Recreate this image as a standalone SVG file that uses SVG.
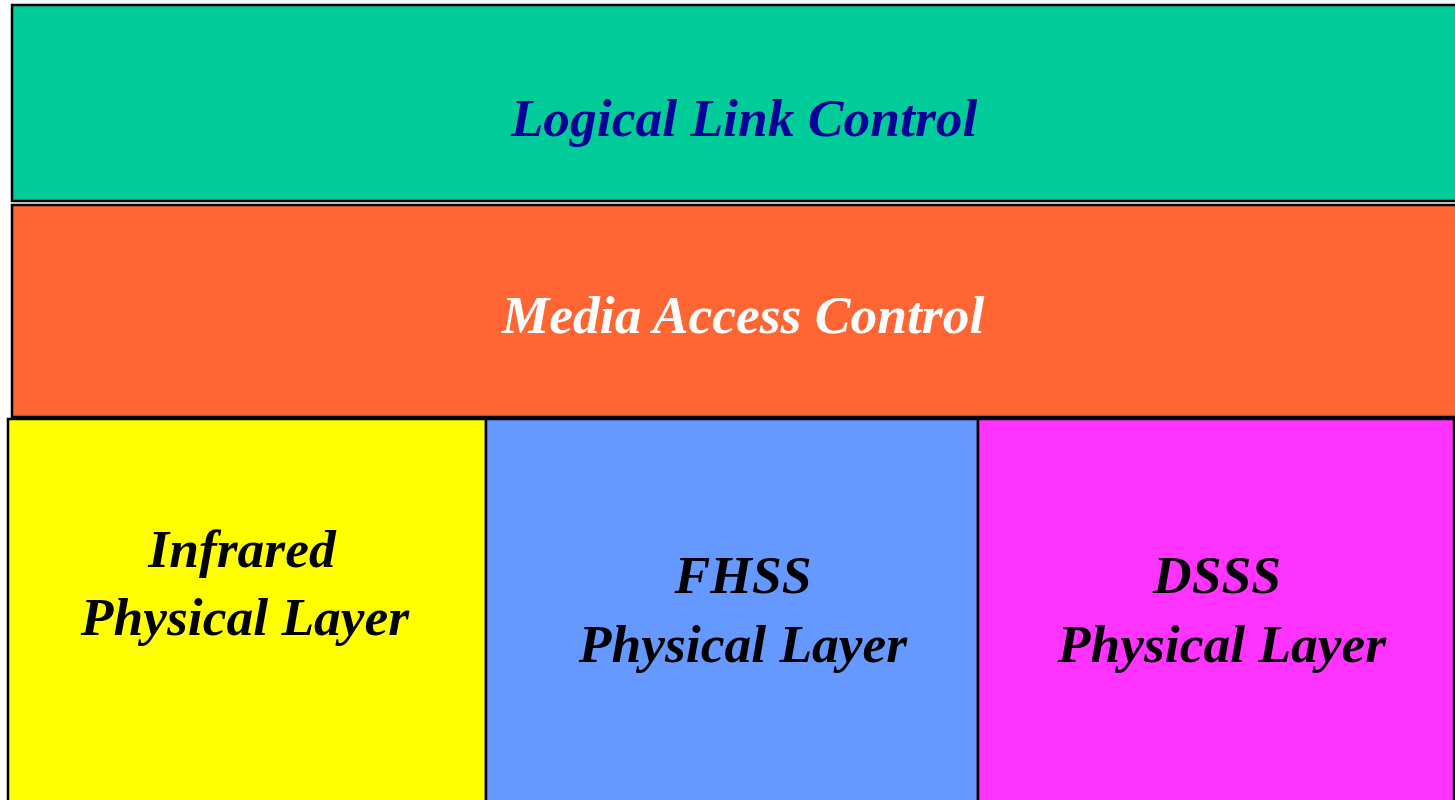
<svg xmlns="http://www.w3.org/2000/svg" width="1455" height="800" viewBox="0 0 1455 800">
  <style>
    .box { stroke: #000; stroke-width: 2.5; }
    .lbl { font-family: "Liberation Serif", "Times New Roman", serif; font-weight: bold; font-style: italic; font-size: 53.5px; text-anchor: middle; }
  </style>
  <rect width="1455" height="800" fill="#fff"/>
  <g id="llc">
    <rect class="box" x="12" y="5" width="1460" height="196" fill="#00CC99"/>
    <text class="lbl" x="744" y="136" fill="#000099">Logical Link Control</text>
  </g>
  <g id="mac">
    <rect class="box" x="12" y="205" width="1460" height="212" fill="#FF6633"/>
    <text class="lbl" x="743" y="333" fill="#fff">Media Access Control</text>
  </g>
  <g id="infrared">
    <rect class="box" x="8" y="419" width="478" height="400" fill="#FFFF00"/>
    <text class="lbl" x="242" y="567" fill="#000">Infrared</text>
    <text class="lbl" x="245" y="635" fill="#000">Physical Layer</text>
  </g>
  <g id="fhss">
    <rect class="box" x="486" y="419" width="492" height="400" fill="#6699FF"/>
    <text class="lbl" x="743" y="593" fill="#000">FHSS</text>
    <text class="lbl" x="743" y="662" fill="#000">Physical Layer</text>
  </g>
  <g id="dsss">
    <rect class="box" x="978" y="419" width="476" height="400" fill="#FF33FF"/>
    <text class="lbl" x="1217" y="593" fill="#000">DSSS</text>
    <text class="lbl" x="1222" y="662" fill="#000">Physical Layer</text>
  </g>
  <g id="connectors"/>
</svg>
